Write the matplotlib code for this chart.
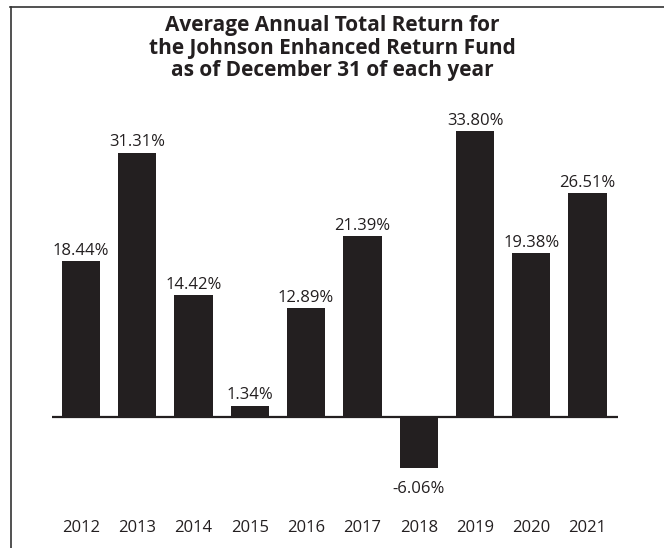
import matplotlib
matplotlib.use('Agg')
import matplotlib.pyplot as plt
from matplotlib.lines import Line2D

years = ['2012', '2013', '2014', '2015', '2016', '2017', '2018', '2019', '2020', '2021']
returns = [18.44, 31.31, 14.42, 1.34, 12.89, 21.39, -6.06, 33.80, 19.38, 26.51]
title = ('Average Annual Total Return for\n'
         'the Johnson Enhanced Return Fund\n'
         'as of December 31 of each year')

plt.rcParams['font.family'] = ['Open Sans', 'DejaVu Sans']

fig = plt.figure(figsize=(6.64, 5.48), dpi=100)
ax = fig.add_axes([52 / 664, (548 - 501.5) / 548, 566 / 664, (501.5 - 96) / 548])

bar_color = '#231f20'
x = list(range(len(years)))
ax.bar(x, returns, width=0.68, color=bar_color, zorder=2)
ax.axhline(0, color=bar_color, linewidth=1.6, zorder=3)

for xi, v in zip(x, returns):
    if v >= 0:
        ax.annotate(f'{v:.2f}%', (xi, v), xytext=(0, 4.5), textcoords='offset points',
                    ha='center', va='baseline', fontsize=12, color='#231f20')
    else:
        ax.annotate(f'{v:.2f}%', (xi, v), xytext=(0, -9), textcoords='offset points',
                    ha='center', va='top', fontsize=12, color='#231f20')

ax.set_xlim(-0.515, 9.54)
ax.set_ylim(-10, 38)
ax.set_xticks(x)
ax.set_xticklabels(years, fontsize=12, color='#231f20')
ax.tick_params(axis='x', length=0, pad=13)
ax.set_yticks([])
for s in ax.spines.values():
    s.set_visible(False)

fig.text(0.5, 1 - 15 / 548, title, ha='center', va='top', fontsize=15,
         fontweight='bold', color='#231f20', linespacing=1.1)

# frame: top and left edges only
fig.add_artist(Line2D([10 / 664, 1], [1 - 7 / 548, 1 - 7 / 548], color='#333333',
                      linewidth=1.2, transform=fig.transFigure))
fig.add_artist(Line2D([11 / 664, 11 / 664], [0, 1 - 7 / 548], color='#333333',
                      linewidth=1.2, transform=fig.transFigure))

fig.savefig('out.png', dpi=100)
